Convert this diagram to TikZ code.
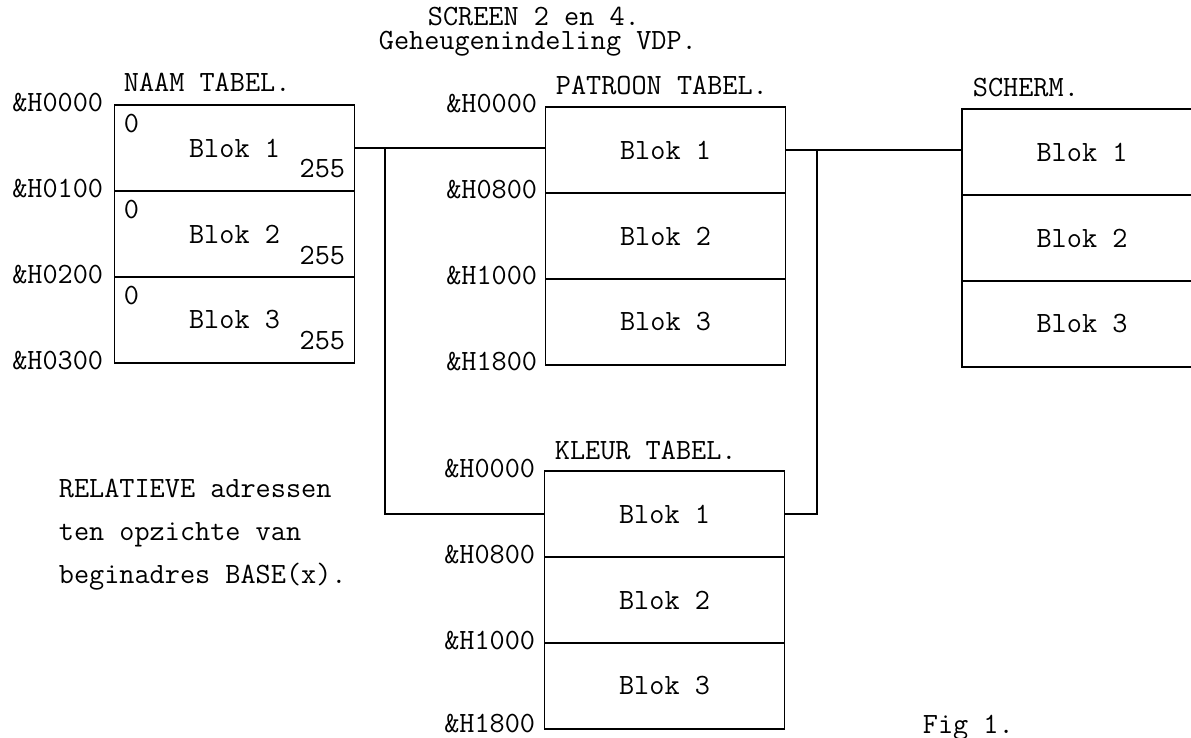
\documentclass[tikz,border=0pt]{standalone}
\usepackage{fontspec}
\begin{document}
\begin{tikzpicture}[x=0.5pt,y=-0.5pt,line width=0.9pt,
  every node/.style={font=\ttfamily\fontsize{14.7}{17}\selectfont,inner sep=0pt},
  blk/.style={draw,line width=0.9pt,minimum width=120pt,minimum height=43pt},
  txt/.style={anchor=base west},
  adr/.style={anchor=base east}]
\useasboundingbox (0,0) rectangle (1191,738);
\clip (0,0) rectangle (1191,738);

% title
\node[txt] (t1) at (427,26) {SCREEN 2 en 4.};
\node[txt] (t2) at (378,50) {Geheugenindeling VDP.};

% NAAM TABEL
\node[txt] (hn) at (123,92) {NAAM TABEL.};
\node[blk] (n1) at (234.5,148) {Blok 1};
\node[blk] (n2) at (234.5,234) {Blok 2};
\node[blk] (n3) at (234.5,320) {Blok 3};
\node[txt] (n1z) at (123,133) {0};
\node[txt] (n2z) at (123,219) {0};
\node[txt] (n3z) at (123,305) {0};
\node[adr] (n1e) at (346,178) {255};
\node[adr] (n2e) at (346,264) {255};
\node[adr] (n3e) at (346,350) {255};
\node[adr] (na0) at (104,112) {\&H0000};
\node[adr] (na1) at (104,198) {\&H0100};
\node[adr] (na2) at (104,284) {\&H0200};
\node[adr] (na3) at (104,370) {\&H0300};

% PATROON TABEL
\node[txt] (hp) at (555,95) {PATROON TABEL.};
\node[blk] (p1) at (665.5,150) {Blok 1};
\node[blk] (p2) at (665.5,236) {Blok 2};
\node[blk] (p3) at (665.5,322) {Blok 3};
\node[adr] (pa0) at (538,113) {\&H0000};
\node[adr] (pa1) at (538,199) {\&H0800};
\node[adr] (pa2) at (538,285) {\&H1000};
\node[adr] (pa3) at (538,371) {\&H1800};

% KLEUR TABEL
\node[txt] (hk) at (554,459) {KLEUR TABEL.};
\node[blk] (k1) at (664.5,514) {Blok 1};
\node[blk] (k2) at (664.5,600) {Blok 2};
\node[blk] (k3) at (664.5,686) {Blok 3};
\node[adr] (ka0) at (536,477) {\&H0000};
\node[adr] (ka1) at (536,563) {\&H0800};
\node[adr] (ka2) at (536,649) {\&H1000};
\node[adr] (ka3) at (536,732) {\&H1800};

% SCHERM
\node[txt] (hs) at (972,97) {SCHERM.};
\node[blk] (s1) at (1082,152) {Blok 1};
\node[blk] (s2) at (1082,238) {Blok 2};
\node[blk] (s3) at (1082,324) {Blok 3};

% connectors
\coordinate (jl) at (385,148);
\coordinate (jr) at (817,150);
\draw (n1.east) -- (jl) -- (p1.west |- jl);
\draw (jl) |- (k1.west);
\draw (p1.east) -- (p1.east -| s1.west);
\draw (k1.east) -| (jr);

% notes
\node[txt] (r1) at (58,497) {RELATIEVE adressen};
\node[txt] (r2) at (58,540) {ten opzichte van};
\node[txt] (r3) at (58,583) {beginadres BASE(x).};
\node[txt] (fig) at (922,733) {Fig 1.};
\end{tikzpicture}
\end{document}
